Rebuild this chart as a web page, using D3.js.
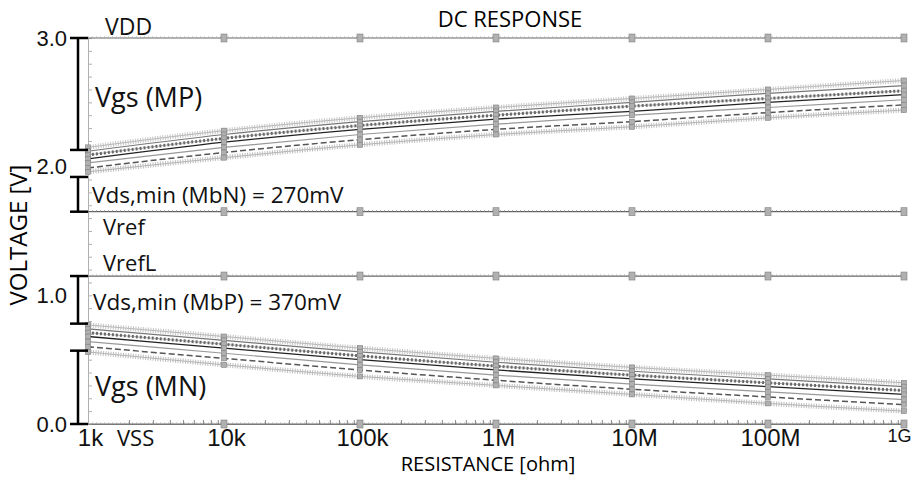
<!DOCTYPE html>
<html>
<head>
<meta charset="utf-8">
<script src="https://cdn.jsdelivr.net/npm/d3@7"></script>
<style>
  body { margin: 0; background: #fff; }
  svg { font-family: "Open Sans", sans-serif; }
</style>
</head>
<body>
<div id="chart"></div>
<script>
// sweep points (resistance, ohm) and their labels
const resistance = [1e3, 1e4, 1e5, 1e6, 1e7, 1e8, 1e9];
const resLabels = ["1k", "10k", "100k", "1M", "10M", "100M", "1G"];
const voltTicks = [0, 1, 2, 3];

// Vgs of MP, corner family (V), top to bottom
const vgsMP = [
  [2.15, 2.28, 2.38, 2.46, 2.53, 2.60, 2.67],
  [2.12, 2.25, 2.35, 2.43, 2.50, 2.57, 2.63],
  [2.09, 2.22, 2.32, 2.40, 2.47, 2.53, 2.59],
  [2.06, 2.19, 2.29, 2.37, 2.43, 2.50, 2.56],
  [2.03, 2.15, 2.25, 2.33, 2.40, 2.46, 2.52],
  [1.99, 2.11, 2.21, 2.29, 2.35, 2.42, 2.48],
  [1.96, 2.07, 2.17, 2.25, 2.31, 2.38, 2.44]
];
// Vgs of MN, corner family (V), top to bottom
const vgsMN = [
  [0.77, 0.68, 0.59, 0.51, 0.44, 0.38, 0.32],
  [0.74, 0.65, 0.56, 0.48, 0.41, 0.35, 0.29],
  [0.71, 0.62, 0.53, 0.45, 0.38, 0.32, 0.26],
  [0.68, 0.59, 0.50, 0.42, 0.35, 0.29, 0.23],
  [0.64, 0.55, 0.46, 0.38, 0.31, 0.25, 0.19],
  [0.60, 0.51, 0.42, 0.34, 0.27, 0.21, 0.15],
  [0.56, 0.46, 0.37, 0.30, 0.23, 0.16, 0.10]
];
// fixed levels
const levelNames = ["VDD", "Vref", "VrefL", "VSS"];
const levelValues = [3.0, 1.65, 1.15, 0.0];

// dimension brackets [from, to] in V
const bracketNames = ["Vgs (MP)", "Vds,min (MbN) = 270mV", "Vds,min (MbP) = 370mV", "Vgs (MN)"];
const bracketSpans = [[3.0, 2.13], [1.92, 1.65], [1.15, 0.78], [0.57, 0.0]];

const width = 912,
      height = 481,
      margin = ({ top: 38, right: 8, bottom: 57, left: 88 });

let svg = d3.select("#chart")
    .append("svg")
    .attr("width", width)
    .attr("height", height);

let x = d3.scaleLog()
    .domain([1e3, 1e9])
    .range([margin.left, width - margin.right]);

let y = d3.scaleLinear()
    .domain([0, 3])
    .range([height - margin.bottom, margin.top]);

// grey axis lines with minor ticks
svg.append("g")
    .attr("transform", `translate(0,${y(0)})`)
    .call(d3.axisBottom(x).ticks(60).tickSizeInner(-4).tickSizeOuter(0).tickFormat(""))
    .call(g => g.selectAll("line, path").attr("stroke", "#8a8a8a"));

svg.append("g")
    .attr("transform", `translate(${margin.left},0)`)
    .call(d3.axisLeft(y).ticks(30).tickSizeInner(-4).tickSizeOuter(0).tickFormat(""))
    .call(g => g.selectAll("line, path").attr("stroke", "#b0b0b0"));

// tick labels
svg.append("g")
    .attr("transform", `translate(0,${y(0)})`)
    .call(d3.axisBottom(x).tickValues(resistance).tickSize(0).tickPadding(5)
        .tickFormat((d, i) => resLabels[i]))
    .call(g => g.select(".domain").remove())
    .selectAll("text")
    .style("font-size", (d, i) => i == resLabels.length - 1 ? "18px" : "24px")
    .attr("text-anchor", (d, i) => i == resLabels.length - 1 ? "end" : "middle")
    .attr("dx", (d, i) => i == resLabels.length - 1 ? 7 : 2)
    .attr("fill", "#111");

svg.append("g")
    .attr("transform", `translate(${margin.left},0)`)
    .call(d3.axisLeft(y).tickValues(voltTicks).tickSize(0).tickPadding(21)
        .tickFormat(d3.format(".1f")))
    .call(g => g.select(".domain").remove())
    .selectAll("text")
    .style("font-size", "22px")
    .attr("fill", "#111");

// fixed level lines
let line = d3.line()
    .x((d, i) => x(resistance[i]))
    .y(d => y(d))
    .curve(d3.curveMonotoneX);

levelValues.forEach(v => {
    svg.append("line")
        .attr("x1", x(1e3)).attr("x2", x(1e9))
        .attr("y1", y(v)).attr("y2", y(v))
        .attr("stroke", "#666")
        .attr("stroke-width", 1.2);
    svg.append("line")
        .attr("x1", x(1e3)).attr("x2", x(1e9))
        .attr("y1", y(v) - 1).attr("y2", y(v) - 1)
        .attr("stroke", "#aaa")
        .attr("stroke-dasharray", "1,3");
});

// line styles for the corner families
const styles = [
    { stroke: "#c4c4c4", w: 5, dash: "1,1.5" },
    { stroke: "#777", w: 1.2, dash: null },
    { stroke: "#6a6a6a", w: 3, dash: "2,2" },
    { stroke: "#222", w: 1.3, dash: null },
    { stroke: "#999", w: 1.2, dash: null },
    { stroke: "#555", w: 1.5, dash: "6,3" },
    { stroke: "#bdbdbd", w: 5, dash: "1,1.5" }
];

function drawFamily(family) {
    let g = svg.append("g");
    family.forEach((vals, k) => {
        let s = styles[k % styles.length];
        if (s.w > 2) {
            // thin core under the textured stroke
            g.append("path")
                .attr("d", line(vals))
                .attr("fill", "none")
                .attr("stroke", "#9a9a9a")
                .attr("stroke-width", 0.8);
        }
        g.append("path")
            .attr("d", line(vals))
            .attr("fill", "none")
            .attr("stroke", s.stroke)
            .attr("stroke-width", s.w)
            .attr("stroke-dasharray", s.dash);
    });
    // decade markers
    family.forEach(vals => {
        g.selectAll(null)
            .data(vals)
            .join("rect")
            .attr("x", (d, i) => x(resistance[i]) - 2.5)
            .attr("y", d => y(d) - 2.5)
            .attr("width", 5)
            .attr("height", 5)
            .attr("fill", "#b0b0b0")
            .attr("stroke", "#808080")
            .attr("stroke-width", 0.6);
    });
}

drawFamily(vgsMP);
drawFamily(vgsMN);

// markers on the fixed levels
levelValues.forEach(v => {
    svg.selectAll(null)
        .data(resistance.slice(1))
        .join("rect")
        .attr("x", d => x(d) - 3)
        .attr("y", y(v) - 4)
        .attr("width", 6)
        .attr("height", 8)
        .attr("fill", "#b0b0b0")
        .attr("stroke", "#808080")
        .attr("stroke-width", 0.6);
});

// dimension brackets
let bx = margin.left - 10;
bracketSpans.forEach(s => {
    let b = svg.append("g").attr("stroke", "#000").attr("stroke-width", 2.5);
    b.append("line").attr("x1", bx).attr("x2", bx).attr("y1", y(s[0])).attr("y2", y(s[1]));
    b.append("line").attr("x1", bx - 8).attr("x2", margin.left).attr("y1", y(s[0])).attr("y2", y(s[0]));
    b.append("line").attr("x1", bx - 8).attr("x2", margin.left).attr("y1", y(s[1])).attr("y2", y(s[1]));
});

// annotations
function note(txt, px, py, size) {
    svg.append("text")
        .attr("x", px)
        .attr("y", py)
        .style("font-size", size + "px")
        .attr("fill", "#111")
        .text(txt);
}

note(levelNames[0], 105, y(levelValues[0]) - 3, 23);
note(levelNames[1], 103, y(levelValues[1]) + 23, 22);
note(levelNames[2], 103, y(levelValues[2]) - 5, 22);
note(levelNames[3], 117, y(levelValues[3]) + 22, 22);

note(bracketNames[0], 95, y(2.55) + 11, 27);
note(bracketNames[1], 92, y(1.785) + 9, 22.5);
note(bracketNames[2], 93, y(0.965) + 10, 22.5);
note(bracketNames[3], 95, y(0.30) + 11, 27);

// titles
svg.append("text")
    .attr("x", 510)
    .attr("y", 27)
    .attr("text-anchor", "middle")
    .style("font-size", "22px")
    .text("DC RESPONSE");

svg.append("text")
    .attr("x", 488)
    .attr("y", 471)
    .attr("text-anchor", "middle")
    .style("font-size", "20px")
    .text("RESISTANCE [ohm]");

svg.append("text")
    .attr("transform", `translate(27,235) rotate(-90)`)
    .attr("text-anchor", "middle")
    .style("font-size", "24px")
    .text("VOLTAGE [V]");
</script>
</body>
</html>
